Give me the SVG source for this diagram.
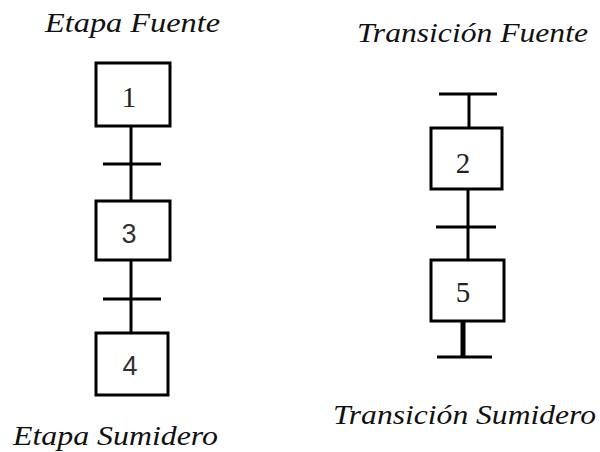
<svg xmlns="http://www.w3.org/2000/svg" width="600" height="452" viewBox="0 0 600 452">
<style>
.box{fill:#fff;stroke:#000;stroke-width:3}
.ln{stroke:#000;stroke-width:3;fill:none}
.thick{stroke:#000;stroke-width:5;fill:none}
.lbl{font-style:italic;font-size:28px;fill:#111}
.ns{font-size:29px;fill:#222;text-anchor:middle}
.na{font-size:27px;fill:#333;text-anchor:middle}
</style>
<rect width="600" height="452" fill="#fff"/>
<g id="labels" font-family="Liberation Serif, DejaVu Serif, serif">
<text class="lbl" x="45" y="32" textLength="175" lengthAdjust="spacingAndGlyphs">Etapa Fuente</text>
<text class="lbl" x="357" y="42" textLength="231" lengthAdjust="spacingAndGlyphs">Transición Fuente</text>
<text class="lbl" x="13" y="445" textLength="205" lengthAdjust="spacingAndGlyphs">Etapa Sumidero</text>
<text class="lbl" x="333" y="424" textLength="263" lengthAdjust="spacingAndGlyphs">Transición Sumidero</text>
</g>
<g id="connectors">
<line class="ln" x1="131" y1="126" x2="131" y2="201"/>
<line class="ln" x1="103" y1="164" x2="161" y2="164"/>
<line class="ln" x1="131" y1="260" x2="131" y2="333"/>
<line class="ln" x1="103" y1="299" x2="161" y2="299"/>
<line class="ln" x1="439" y1="94" x2="497" y2="94"/>
<line class="ln" x1="469" y1="94" x2="469" y2="128"/>
<line class="ln" x1="468" y1="189" x2="468" y2="260"/>
<line class="ln" x1="436" y1="227" x2="496" y2="227"/>
<line class="thick" x1="463" y1="321" x2="463" y2="357"/>
<line class="ln" x1="437" y1="357" x2="492" y2="357"/>
</g>
<g id="step1"><rect class="box" x="96" y="63" width="74" height="63"/><text class="ns" font-family="Liberation Serif, DejaVu Serif, serif" x="129" y="107">1</text></g>
<g id="step3"><rect class="box" x="96" y="201" width="74" height="59"/><text class="na" font-family="Liberation Sans, sans-serif" x="129" y="243">3</text></g>
<g id="step4"><rect class="box" x="96" y="333" width="72" height="62"/><text class="na" font-family="Liberation Sans, sans-serif" x="130" y="375">4</text></g>
<g id="step2"><rect class="box" x="431" y="128" width="71" height="61"/><text class="ns" font-family="Liberation Serif, DejaVu Serif, serif" x="463" y="173">2</text></g>
<g id="step5"><rect class="box" x="431" y="260" width="73" height="61"/><text class="ns" font-family="Liberation Serif, DejaVu Serif, serif" x="463" y="302">5</text></g>
</svg>
